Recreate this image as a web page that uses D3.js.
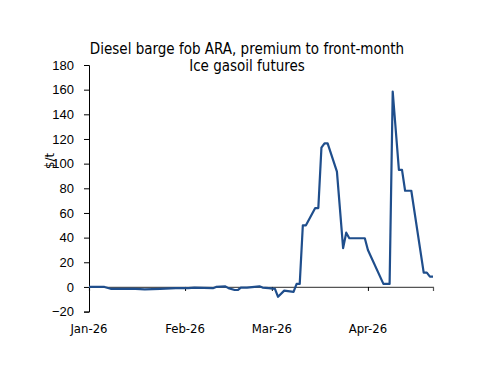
<!DOCTYPE html>
<html>
<head>
<meta charset="utf-8">
<script src="https://cdn.jsdelivr.net/npm/d3@7"></script>
<style>
  body { margin: 0; background: #fff; }
  svg { display: block; font-family: "DejaVu Sans Condensed", "DejaVu Sans", sans-serif; }
</style>
</head>
<body>
<svg width="500" height="386"></svg>
<script>
// $/t
const dates = [
  '2026-01-01', '2026-01-06', '2026-01-08', '2026-01-11', '2026-01-16', '2026-01-19',
  '2026-01-24', '2026-01-29', '2026-02-02', '2026-02-04', '2026-02-10', '2026-02-11',
  '2026-02-14', '2026-02-15', '2026-02-17', '2026-02-18', '2026-02-19', '2026-02-21',
  '2026-02-25', '2026-02-26', '2026-02-28', '2026-03-02', '2026-03-03', '2026-03-05',
  '2026-03-08', '2026-03-09', '2026-03-10', '2026-03-11', '2026-03-12', '2026-03-15',
  '2026-03-16', '2026-03-17', '2026-03-18', '2026-03-19', '2026-03-22', '2026-03-24',
  '2026-03-25', '2026-03-26', '2026-03-31', '2026-04-01', '2026-04-06', '2026-04-08',
  '2026-04-09', '2026-04-11', '2026-04-12', '2026-04-13', '2026-04-15', '2026-04-19',
  '2026-04-20', '2026-04-21', '2026-04-22'
];
const premium = [
  0, 0, -1.5, -1.5, -1.5, -2,
  -1.5, -1, -1, -0.5, -1, 0,
  0.5, -1, -2.5, -2.5, -0.5, -0.5,
  0.5, -0.5, -1, -1.5, -8, -3,
  -4, 2.5, 2.5, 50, 50, 64,
  64, 113, 116.5, 116.5, 93.5, 31.5,
  44, 39.5, 39.5, 30, 2.5, 2.5,
  158.5, 95, 95, 78, 78, 11.6,
  11.6, 8.4, 8.4
];
const yTicks = [-20, 0, 20, 40, 60, 80, 100, 120, 140, 160, 180];
const monthTicks = ['2026-01-01', '2026-02-01', '2026-03-01', '2026-04-01'];
const titleLines = ['Diesel barge fob ARA, premium to front-month', 'Ice gasoil futures'];

const parse = d3.timeParse('%Y-%m-%d');
const data = dates.map((d, i) => ({date: parse(d), value: premium[i]}));

const svg = d3.select('svg');

const x = d3.scaleTime()
  .domain([parse('2026-01-01'), parse('2026-04-22')])
  .range([89, 433]);
const y = d3.scaleLinear().domain([-20, 180]).range([311.6, 65]);

// title
svg.append('text')
  .attr('x', 247).attr('y', 54)
  .attr('text-anchor', 'middle')
  .style('font-size', '15px')
  .selectAll('tspan')
  .data(titleLines)
  .enter()
  .append('tspan')
  .attr('x', 247)
  .attr('dy', (d, i) => i ? 17 : 0)
  .text(d => d);

// y axis
const yAxis = svg.append('g')
  .attr('transform', 'translate(89,0)')
  .call(d3.axisLeft(y).tickValues(yTicks).tickSize(5).tickPadding(10));
yAxis.selectAll('text').style('font-size', '13px').attr('fill', '#000');
yAxis.selectAll('line, path').attr('stroke', '#000');

svg.append('text')
  .attr('transform', 'translate(54,161) rotate(-90)')
  .attr('text-anchor', 'middle')
  .style('font-size', '13px')
  .text('$/t');

// x axis sits on zero, labels at the bottom
const xAxis = svg.append('g')
  .attr('transform', `translate(0,${y(0)})`)
  .call(d3.axisBottom(x).tickValues(monthTicks.map(parse)).tickSize(4).tickFormat(() => ''));
xAxis.select('.domain').attr('stroke', '#555').attr('stroke-width', 1.2);
xAxis.selectAll('line').attr('stroke', '#000');

svg.selectAll('.month')
  .data(monthTicks.map(parse))
  .enter()
  .append('text')
  .classed('month', true)
  .attr('x', d => x(d))
  .attr('y', 333)
  .attr('text-anchor', 'middle')
  .style('font-size', '13px')
  .text(d3.timeFormat('%b-%y'));

svg.append('path')
  .datum(data)
  .attr('fill', 'none')
  .attr('stroke', '#1f4e8c')
  .attr('stroke-width', 2.2)
  .attr('stroke-linejoin', 'round')
  .attr('d', d3.line().x(d => x(d.date)).y(d => y(d.value)));
</script>
</body>
</html>
